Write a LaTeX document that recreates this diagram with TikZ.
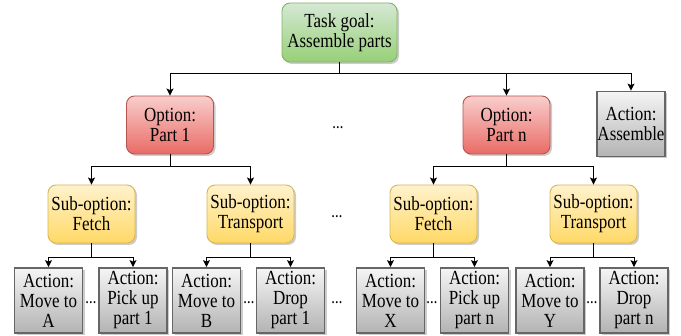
\documentclass[tikz,border=0pt]{standalone}
\usepackage{fontspec}
\setmainfont{Liberation Serif}[FakeStretch=0.85]
\usetikzlibrary{arrows.meta, shadows}
\definecolor{goalTop}{HTML}{D5E8D4}
\definecolor{goalBot}{HTML}{97D077}
\definecolor{goalLine}{HTML}{82B366}
\definecolor{optTop}{HTML}{F8CECC}
\definecolor{optBot}{HTML}{EA6B66}
\definecolor{optLine}{HTML}{B85450}
\definecolor{subTop}{HTML}{FFF2CC}
\definecolor{subBot}{HTML}{FFD966}
\definecolor{subLine}{HTML}{D6B656}
\definecolor{actTop}{HTML}{F5F5F5}
\definecolor{actBot}{HTML}{B3B3B3}
\definecolor{actLine}{HTML}{666666}

\begin{document}
\begin{tikzpicture}[
        x=1pt, y=-1pt,
        base/.style={rectangle, align=center, inner sep=0pt, font=\fontsize{20}{20}\selectfont, drop shadow={shadow xshift=2pt, shadow yshift=-2pt, opacity=0.2, fill=black}},
        goal/.style={base, rounded corners=8pt, draw=goalLine, line width=0.9pt, top color=goalTop, bottom color=goalBot, minimum width=115pt, minimum height=59pt},
        option/.style={base, rounded corners=8pt, draw=optLine, line width=0.9pt, top color=optTop, bottom color=optBot, minimum width=87pt, minimum height=58pt},
        suboption/.style={base, rounded corners=8pt, draw=subLine, line width=0.9pt, top color=subTop, bottom color=subBot, minimum width=87pt, minimum height=58pt},
        action/.style={base, draw=actLine, line width=1.8pt, top color=actTop, bottom color=actBot, minimum width=68pt, minimum height=65pt},
        dots/.style={inner sep=0pt, font=\fontsize{13}{13}\selectfont\bfseries},
        arrow/.style={-{Stealth[length=7pt, width=7pt, inset=1.5pt]}, line width=1pt}
    ]
        \useasboundingbox (0,0) rectangle (681,336);

        % Goal and options
        \node[goal] (g) at (339.5,32.5) {Task goal:\\Assemble parts};
        \node[option] (o1) at (170,125) {Option:\\Part 1};
        \node[option] (o2) at (506.5,125) {Option:\\Part n};
        \node[action] (a0) at (631,124) {Action:\\Assemble};
        \node[dots] (d0) at (338,128) {…};

        % Sub-options
        \node[suboption] (s1) at (91.5,214) {Sub-option:\\Fetch};
        \node[suboption] (s2) at (250.5,214) {Sub-option:\\Transport};
        \node[suboption] (s3) at (433.5,214) {Sub-option:\\Fetch};
        \node[suboption] (s4) at (593.5,214) {Sub-option:\\Transport};
        \node[dots] (d1) at (337,217) {…};

        % Actions
        \node[action] (a1) at (48.5,300.5) {Action:\\Move to\\A};
        \node[action] (a2) at (133,300.5) {Action:\\Pick up\\part 1};
        \node[action] (a3) at (206.5,300.5) {Action:\\Move to\\B};
        \node[action] (a4) at (290.5,300.5) {Action:\\Drop\\part 1};
        \node[action] (a5) at (390.5,300.5) {Action:\\Move to\\X};
        \node[action] (a6) at (474.5,300.5) {Action:\\Pick up\\part n};
        \node[action] (a7) at (550,300.5) {Action:\\Move to\\Y};
        \node[action] (a8) at (634,300.5) {Action:\\Drop\\part n};
        \node[dots] (d2) at (91,303) {…};
        \node[dots] (d3) at (249,303) {…};
        \node[dots] (d4) at (337,303) {…};
        \node[dots] (d5) at (432,303) {…};
        \node[dots] (d6) at (592,303) {…};

        % Arrows
        \draw[arrow] (g.south) -- ++(0,11) -| (o1.north);
        \draw[arrow] (g.south) -- ++(0,11) -| (o2.north);
        \draw[arrow] (g.south) -- ++(0,11) -| (a0.north);
        \draw[arrow] (o1.south) -- ++(0,12) -| (s1.north);
        \draw[arrow] (o1.south) -- ++(0,12) -| (s2.north);
        \draw[arrow] (o2.south) -- ++(0,12) -| (s3.north);
        \draw[arrow] (o2.south) -- ++(0,12) -| (s4.north);
        \draw[arrow] (s1.south) -- ++(0,14) -| (a1.north);
        \draw[arrow] (s1.south) -- ++(0,14) -| (a2.north);
        \draw[arrow] (s2.south) -- ++(0,14) -| (a3.north);
        \draw[arrow] (s2.south) -- ++(0,14) -| (a4.north);
        \draw[arrow] (s3.south) -- ++(0,14) -| (a5.north);
        \draw[arrow] (s3.south) -- ++(0,14) -| (a6.north);
        \draw[arrow] (s4.south) -- ++(0,14) -| (a7.north);
        \draw[arrow] (s4.south) -- ++(0,14) -| (a8.north);
    \end{tikzpicture}
\end{document}
